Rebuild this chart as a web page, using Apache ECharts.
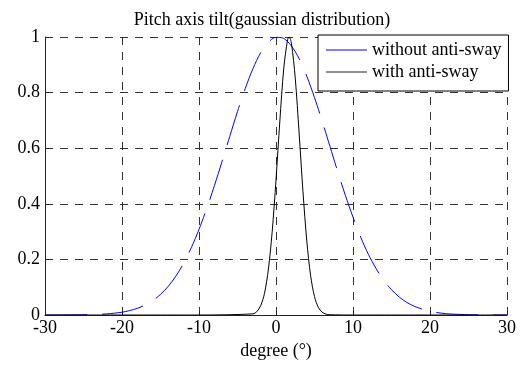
<!DOCTYPE html>
<html>
<head>
<meta charset="utf-8">
<style>
  html, body { margin: 0; padding: 0; background: #fff; }
  #chart { width: 524px; height: 365px; }
</style>
<script src="https://cdn.jsdelivr.net/npm/echarts@6/dist/echarts.min.js"></script>
</head>
<body>
<div id="chart"></div>
<script>
// without anti-sway (blue, wide)
const blueX = [-30, -28, -26, -24, -22, -20, -19, -18, -17, -16, -15, -14, -13, -12, -11, -10, -9, -8, -7, -6, -5, -4, -3, -2, -1, 0, 1, 2, 3, 4, 5, 6, 7, 8, 9, 10, 11, 12, 13, 14, 15, 16, 17, 18, 19, 20, 22, 24, 26, 28, 30];
const blueY = [0, 0.0001, 0.0005, 0.0014, 0.004, 0.010, 0.016, 0.024, 0.036, 0.052, 0.074, 0.103, 0.140, 0.186, 0.242, 0.308, 0.383, 0.465, 0.553, 0.643, 0.732, 0.814, 0.886, 0.943, 0.981, 0.999, 0.995, 0.968, 0.922, 0.859, 0.782, 0.697, 0.607, 0.517, 0.431, 0.352, 0.280, 0.218, 0.167, 0.124, 0.091, 0.065, 0.045, 0.031, 0.021, 0.013, 0.005, 0.002, 0.0006, 0.0002, 0];

// with anti-sway (black, narrow)
const blackX = [-30, -10, -3, -2.5, -2, -1.5, -1, -0.5, 0, 0.5, 1, 1.5, 1.7, 2, 2.5, 3, 3.5, 4, 4.5, 5, 5.5, 6, 6.5, 7, 10, 30];
const blackY = [0, 0, 0.004, 0.012, 0.033, 0.077, 0.162, 0.298, 0.486, 0.698, 0.885, 0.990, 1, 0.978, 0.852, 0.655, 0.445, 0.266, 0.141, 0.066, 0.027, 0.010, 0.003, 0.001, 0, 0];

const seriesNames = ['without anti-sway', 'with anti-sway'];
const yTicks = ['0', '0.2', '0.4', '0.6', '0.8', '1'];

const font = 'Liberation Serif';

const chart = echarts.init(document.getElementById('chart'));

const toPairs = (xs, ys) => xs.map((x, i) => [x, ys[i]]);

chart.setOption({
  animation: false,
  backgroundColor: '#fff',
  title: {
    text: 'Pitch axis tilt(gaussian distribution)',
    left: 'center',
    top: 6,
    textStyle: { fontFamily: font, fontSize: 18, fontWeight: 'normal', color: '#000' }
  },
  grid: { left: 45, right: 17, top: 37, bottom: 48 },
  legend: {
    orient: 'vertical',
    left: 318,
    top: 35,
    padding: [5, 7, 9, 8],
    itemWidth: 41,
    itemHeight: 1,
    itemGap: 2,
    backgroundColor: '#fff',
    borderColor: '#000',
    borderWidth: 1,
    borderRadius: 0,
    textStyle: { fontFamily: font, fontSize: 18, color: '#000', lineHeight: 20 },
    data: [
      { name: seriesNames[0], icon: 'rect', itemStyle: { color: '#0000ff' } },
      { name: seriesNames[1], icon: 'rect', itemStyle: { color: '#222' } }
    ]
  },
  xAxis: {
    type: 'value',
    min: -30,
    max: 30,
    interval: 10,
    name: 'degree (°)',
    nameLocation: 'middle',
    nameGap: 27,
    nameTextStyle: { fontFamily: font, fontSize: 18, color: '#000' },
    axisLine: { show: true, onZero: false, lineStyle: { color: '#222', width: 1 } },
    axisTick: { show: true, inside: true, length: 4, lineStyle: { color: '#222' } },
    axisLabel: { fontFamily: font, fontSize: 18, color: '#000', margin: 4 },
    splitLine: { show: true, lineStyle: { color: '#333', type: [8, 7], width: 1 } }
  },
  yAxis: {
    type: 'value',
    min: 0,
    max: 1,
    interval: 0.2,
    axisLine: { show: true, onZero: false, lineStyle: { color: '#222', width: 1 } },
    axisTick: { show: true, inside: true, length: 4, lineStyle: { color: '#222' } },
    axisLabel: {
      fontFamily: font, fontSize: 18, color: '#000', margin: 5,
      formatter: (v) => yTicks[Math.round(v * 5)]
    },
    splitLine: { show: true, lineStyle: { color: '#333', type: [8, 7], width: 1 } }
  },
  series: [
    {
      name: seriesNames[0],
      type: 'line',
      data: toPairs(blueX, blueY),
      smooth: 0.3,
      symbol: 'none',
      lineStyle: { color: '#0000ff', width: 1, type: [42, 15] },
      itemStyle: { color: '#0000ff' },
      z: 3
    },
    {
      name: seriesNames[1],
      type: 'line',
      data: toPairs(blackX, blackY),
      smooth: 0.3,
      symbol: 'none',
      lineStyle: { color: '#000', width: 1 },
      itemStyle: { color: '#000' },
      z: 4
    }
  ]
});
</script>
</body>
</html>
